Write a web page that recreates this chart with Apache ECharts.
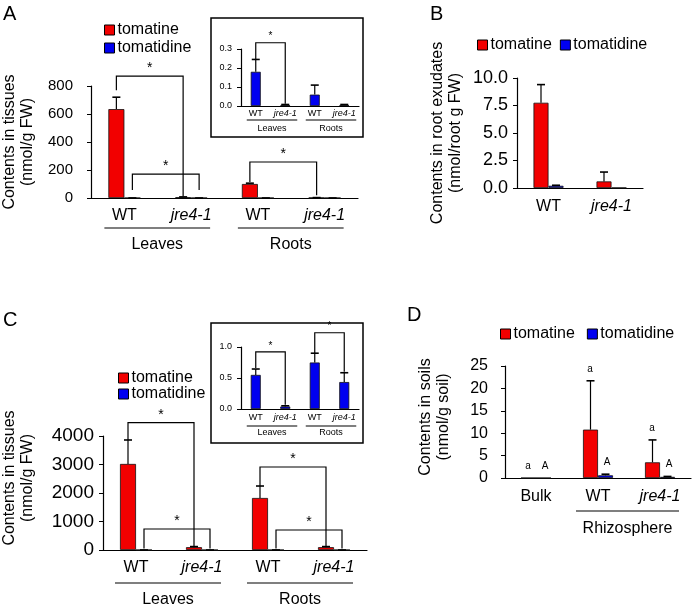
<!DOCTYPE html>
<html>
<head>
<meta charset="utf-8">
<script src="https://cdn.jsdelivr.net/npm/echarts@6/dist/echarts.min.js"></script>
<style>
html, body { margin: 0; padding: 0; background: #fff; }
#main { width: 692px; height: 608px; }
</style>
</head>
<body>
<div id="main"></div>
<script>
var FONT = 'Liberation Sans, Arial, sans-serif';
var RED = '#f20000', BLUE = '#0000f0';

/* ---------- A : tissues (hydroponic) ---------- */
var catsA = ['WT', 'jre4-1', 'WT', 'jre4-1'];
var tomatineA = [635, 5, 100, 2];
var tomatineErrA = [85, 3, 6, 1];
var tomatidineA = [0.18, 0.005, 0.06, 0.005];
var tomatidineErrA = [0.065, 0.003, 0.05, 0.003];
// [fromCat, fromSeries, toCat, toSeries, fromBottom, toBottom, top]
var bracketsA = [[0, 0, 1, 0, 770, 12, 871], [0, 1, 1, 1, 57, 57, 171], [2, 0, 3, 0, 114, 20, 257]];
var bracketsAInset = [[0, 1, 1, 1, 0.245, 0.012, 0.333]];
var groupsA = [[0, 1], [2, 3]];
var groupNamesA = ['Leaves', 'Roots'];

/* ---------- B : root exudates ---------- */
var catsB = ['WT', 'jre4-1'];
var tomatineB = [7.75, 0.6];
var tomatineErrB = [1.65, 0.85];
var tomatidineB = [0.2, 0.02];
var tomatidineErrB = [0.05, 0];

/* ---------- C : tissues (soil) ---------- */
var catsC = ['WT', 'jre4-1', 'WT', 'jre4-1'];
var tomatineC = [3020, 100, 1825, 100];
var tomatineErrC = [840, 20, 420, 20];
var tomatidineC = [0.55, 0.04, 0.75, 0.435];
var tomatidineErrC = [0.095, 0.012, 0.15, 0.15];
var bracketsC = [[0, 0, 1, 0, 3860, 130, 4467], [0, 1, 1, 1, 50, 50, 737], [2, 0, 3, 0, 2245, 130, 2912], [2, 1, 3, 1, 50, 50, 702]];
var bracketsCInset = [[0, 1, 1, 1, 0.66, 0.07, 0.92], [2, 1, 3, 1, 0.9, 0.6, 1.23]];
var groupsC = [[0, 1], [2, 3]];
var groupNamesC = ['Leaves', 'Roots'];

/* ---------- D : soils ---------- */
var catsD = ['Bulk', 'WT', 'jre4-1'];
var tomatineD = [0, 10.8, 3.5];
var tomatineErrD = [0, 10.9, 5.0];
var tomatidineD = [0, 0.6, 0.25];
var tomatidineErrD = [0, 0.25, 0.1];
var lettersTomatineD = ['a', 'a', 'a'];
var lettersTomatidineD = ['A', 'A', 'A'];
var groupsD = [[1, 2]];
var groupNamesD = ['Rhizosphere'];

var grids = [
    {left: 91, top: 86, width: 267, height: 112},   // A
    {left: 241, top: 49, width: 118, height: 57},   // A inset
    {left: 517, top: 78, width: 126, height: 110},  // B
    {left: 103, top: 436, width: 264, height: 114}, // C
    {left: 241, top: 347, width: 118, height: 62},  // C inset
    {left: 505, top: 366, width: 186, height: 112}  // D
];
grids.forEach(function (g) { g.containLabel = false; g.outerBoundsMode = 'none'; });

function xAx(gi, cats, fs, margin) {
    return {
        type: 'category', gridIndex: gi, data: cats,
        axisLine: {lineStyle: {color: '#000', width: 1.2}},
        axisTick: {show: false},
        axisLabel: {
            interval: 0, margin: margin, color: '#000', fontSize: fs, fontFamily: FONT,
            formatter: function (v) { return v === 'jre4-1' ? '{it|' + v + '}' : v; },
            rich: {it: {fontStyle: 'italic', fontSize: fs, fontFamily: FONT, color: '#000'}}
        }
    };
}

function yAx(gi, max, step, fs, margin, dec, name, gap, shift) {
    return {
        type: 'value', gridIndex: gi, min: 0, max: max, interval: step,
        name: name, nameLocation: 'middle', nameGap: gap,
        nameTextStyle: {color: '#000', fontSize: 16, fontFamily: FONT, lineHeight: 18,
            padding: [0, 0, 0, shift || 0]},
        axisLine: {show: true, lineStyle: {color: '#000', width: 1.2}},
        axisTick: {show: true, length: 4, lineStyle: {color: '#000'}},
        splitLine: {show: false},
        axisLabel: {color: '#000', fontSize: fs, fontFamily: FONT, margin: margin,
            formatter: function (v) { return v.toFixed(dec); }}
    };
}

function barSeries(gi, name, vals, color, w) {
    return {
        name: name, type: 'bar', xAxisIndex: gi, yAxisIndex: gi, data: vals,
        barWidth: w, barGap: '0%', silent: true,
        itemStyle: {color: color, borderColor: '#111', borderWidth: 0.8}
    };
}

function errSeries(gi, vals, errs, off, cap) {
    return {
        type: 'custom', xAxisIndex: gi, yAxisIndex: gi, clip: false, silent: true, z: 5,
        data: vals.map(function (v, i) { return [i, v, errs[i]]; }),
        encode: {x: 0, y: 1},
        renderItem: function (params, api) {
            var e = api.value(2);
            if (!e) return null;
            var b = api.coord([api.value(0), api.value(1)]);
            var t = api.coord([api.value(0), api.value(1) + e]);
            var x = b[0] + off;
            return {type: 'group', children: [
                {type: 'line', shape: {x1: x, y1: b[1], x2: x, y2: t[1]}, style: {stroke: '#000', lineWidth: 1.2}},
                {type: 'line', shape: {x1: x - cap, y1: t[1], x2: x + cap, y2: t[1]}, style: {stroke: '#000', lineWidth: 1.6}}
            ]};
        }
    };
}

function bracketSeries(gi, rows, offs, starSize) {
    return {
        type: 'custom', xAxisIndex: gi, yAxisIndex: gi, clip: false, silent: true, z: 6,
        data: rows, encode: {x: 0, y: 6},
        renderItem: function (params, api) {
            var a = api.coord([api.value(0), api.value(4)]);
            var b = api.coord([api.value(2), api.value(5)]);
            var top = api.coord([api.value(0), api.value(6)])[1];
            var x1 = a[0] + offs[api.value(1)], x2 = b[0] + offs[api.value(3)];
            return {type: 'group', children: [
                {type: 'polyline', shape: {points: [[x1, a[1]], [x1, top], [x2, top], [x2, b[1]]]},
                    style: {stroke: '#000', lineWidth: 1.2, fill: null}},
                {type: 'text', x: (x1 + x2) / 2, y: top - 1,
                    style: {text: '*', fontSize: starSize, fontFamily: FONT, fill: '#000',
                        align: 'center', verticalAlign: 'bottom'}}
            ]};
        }
    };
}

function groupSeries(gi, groups, names, padL, padR, dyLine, dyText, fs) {
    return {
        type: 'custom', xAxisIndex: gi, yAxisIndex: gi, clip: false, silent: true,
        data: groups, encode: {x: 0},
        renderItem: function (params, api) {
            var p0 = api.coord([api.value(0), 0]);
            var p1 = api.coord([api.value(1), 0]);
            var xa = p0[0] - padL, xb = p1[0] + padR;
            return {type: 'group', children: [
                {type: 'line', shape: {x1: xa, y1: p0[1] + dyLine, x2: xb, y2: p0[1] + dyLine},
                    style: {stroke: '#000', lineWidth: 1.2}},
                {type: 'text', x: (xa + xb) / 2, y: p0[1] + dyText,
                    style: {text: names[params.dataIndex], fontSize: fs, fontFamily: FONT, fill: '#000',
                        align: 'center', verticalAlign: 'middle'}}
            ]};
        }
    };
}

function letterSeries(gi, vals, errs, letters, off) {
    return {
        type: 'custom', xAxisIndex: gi, yAxisIndex: gi, clip: false, silent: true, z: 6,
        data: vals.map(function (v, i) { return [i, v + errs[i]]; }),
        encode: {x: 0, y: 1},
        renderItem: function (params, api) {
            var p = api.coord([api.value(0), api.value(1)]);
            return {type: 'text', x: p[0] + off, y: p[1] - 7,
                style: {text: letters[params.dataIndex], fontSize: 10, fontFamily: FONT, fill: '#000',
                    align: 'center', verticalAlign: 'bottom'}};
        }
    };
}

function legendAt(left, top, orient, gap) {
    return {
        left: left, top: top, orient: orient, itemGap: gap, selectedMode: false, padding: 0,
        icon: 'rect', itemWidth: 10, itemHeight: 10,
        data: ['tomatine', 'tomatidine'],
        itemStyle: {borderColor: '#000', borderWidth: 1},
        textStyle: {color: '#000', fontSize: 16, fontFamily: FONT, padding: [0, 0, 0, -2]}
    };
}

function panelLetter(t, x, y) {
    return {type: 'text', left: x, top: y, style: {text: t, fontSize: 20, fontFamily: FONT, fill: '#000'}};
}

var option = {
    animation: false,
    backgroundColor: '#fff',
    grid: grids,
    legend: [
        legendAt(104, 22, 'vertical', 2),
        legendAt(477, 37, 'horizontal', 8),
        legendAt(118, 370, 'vertical', 0),
        legendAt(500, 326, 'horizontal', 12)
    ],
    graphic: [
        panelLetter('A', 3, 4),
        panelLetter('B', 430, 4),
        panelLetter('C', 3, 310),
        panelLetter('D', 407, 305),
        {type: 'rect', shape: {x: 211, y: 18, width: 152, height: 119},
            style: {fill: 'none', stroke: '#000', lineWidth: 1.5}, z: 1},
        {type: 'rect', shape: {x: 211, y: 323, width: 152, height: 120},
            style: {fill: 'none', stroke: '#000', lineWidth: 1.5}, z: 1}
    ],
    xAxis: [
        xAx(0, catsA, 16, 10),
        xAx(1, catsA, 9, 3),
        xAx(2, catsB, 16, 11),
        xAx(3, catsC, 16, 10),
        xAx(4, catsC, 9, 4),
        xAx(5, catsD, 16, 11)
    ],
    yAxis: [
        yAx(0, 800, 200, 15, 18, 0, 'Contents in tissues\n(nmol/g FW)', 54, 0),
        yAx(1, 0.3, 0.1, 9, 9, 1, '', 0, 0),
        yAx(2, 10, 2.5, 18, 9, 1, 'Contents in root exudates\n(nmol/root g FW)', 52, 0),
        yAx(3, 4000, 1000, 19, 9, 0, 'Contents in tissues\n(nmol/g FW)', 66, 30),
        yAx(4, 1, 0.5, 9, 9, 1, '', 0, 0),
        yAx(5, 25, 5, 16, 17, 0, 'Contents in soils\n(nmol/g soil)', 52, 10)
    ],
    series: [
        // A
        barSeries(0, 'tomatine', tomatineA, RED, 16),
        barSeries(0, 'tomatidine', tomatidineA, BLUE, 16),
        errSeries(0, tomatineA, tomatineErrA, -8, 4),
        errSeries(0, tomatidineA, tomatidineErrA, 8, 4),
        bracketSeries(0, bracketsA, [-8, 8], 14),
        groupSeries(0, groupsA, groupNamesA, 20, 19, 30, 47, 16),
        // A inset
        barSeries(1, 'tomatidine', tomatidineA, BLUE, 10),
        errSeries(1, tomatidineA, tomatidineErrA, 0, 4),
        bracketSeries(1, bracketsAInset, [0, 0], 10),
        groupSeries(1, groupsA, groupNamesA, 9, 12, 14, 23, 9),
        // B
        barSeries(2, 'tomatine', tomatineB, RED, 15),
        barSeries(2, 'tomatidine', tomatidineB, BLUE, 15),
        errSeries(2, tomatineB, tomatineErrB, -7.5, 4),
        errSeries(2, tomatidineB, tomatidineErrB, 7.5, 4),
        // C
        barSeries(3, 'tomatine', tomatineC, RED, 16),
        barSeries(3, 'tomatidine', tomatidineC, BLUE, 16),
        errSeries(3, tomatineC, tomatineErrC, -8, 4),
        errSeries(3, tomatidineC, tomatidineErrC, 8, 4),
        bracketSeries(3, bracketsC, [-8, 8], 14),
        groupSeries(3, groupsC, groupNamesC, 21, 19, 33, 50, 16),
        // C inset
        barSeries(4, 'tomatidine', tomatidineC, BLUE, 10),
        errSeries(4, tomatidineC, tomatidineErrC, 0, 4),
        bracketSeries(4, bracketsCInset, [0, 0], 10),
        groupSeries(4, groupsC, groupNamesC, 9, 12, 17, 24, 9),
        // D
        barSeries(5, 'tomatine', tomatineD, RED, 15),
        barSeries(5, 'tomatidine', tomatidineD, BLUE, 15),
        errSeries(5, tomatineD, tomatineErrD, -7.5, 4),
        errSeries(5, tomatidineD, tomatidineErrD, 7.5, 4),
        letterSeries(5, tomatineD, tomatineErrD, lettersTomatineD, -8),
        letterSeries(5, tomatidineD, tomatidineErrD, lettersTomatidineD, 9),
        groupSeries(5, groupsD, groupNamesD, 22, 19, 33, 51, 16)
    ]
};

var myChart = echarts.init(document.getElementById('main'));
myChart.setOption(option);
</script>
</body>
</html>
